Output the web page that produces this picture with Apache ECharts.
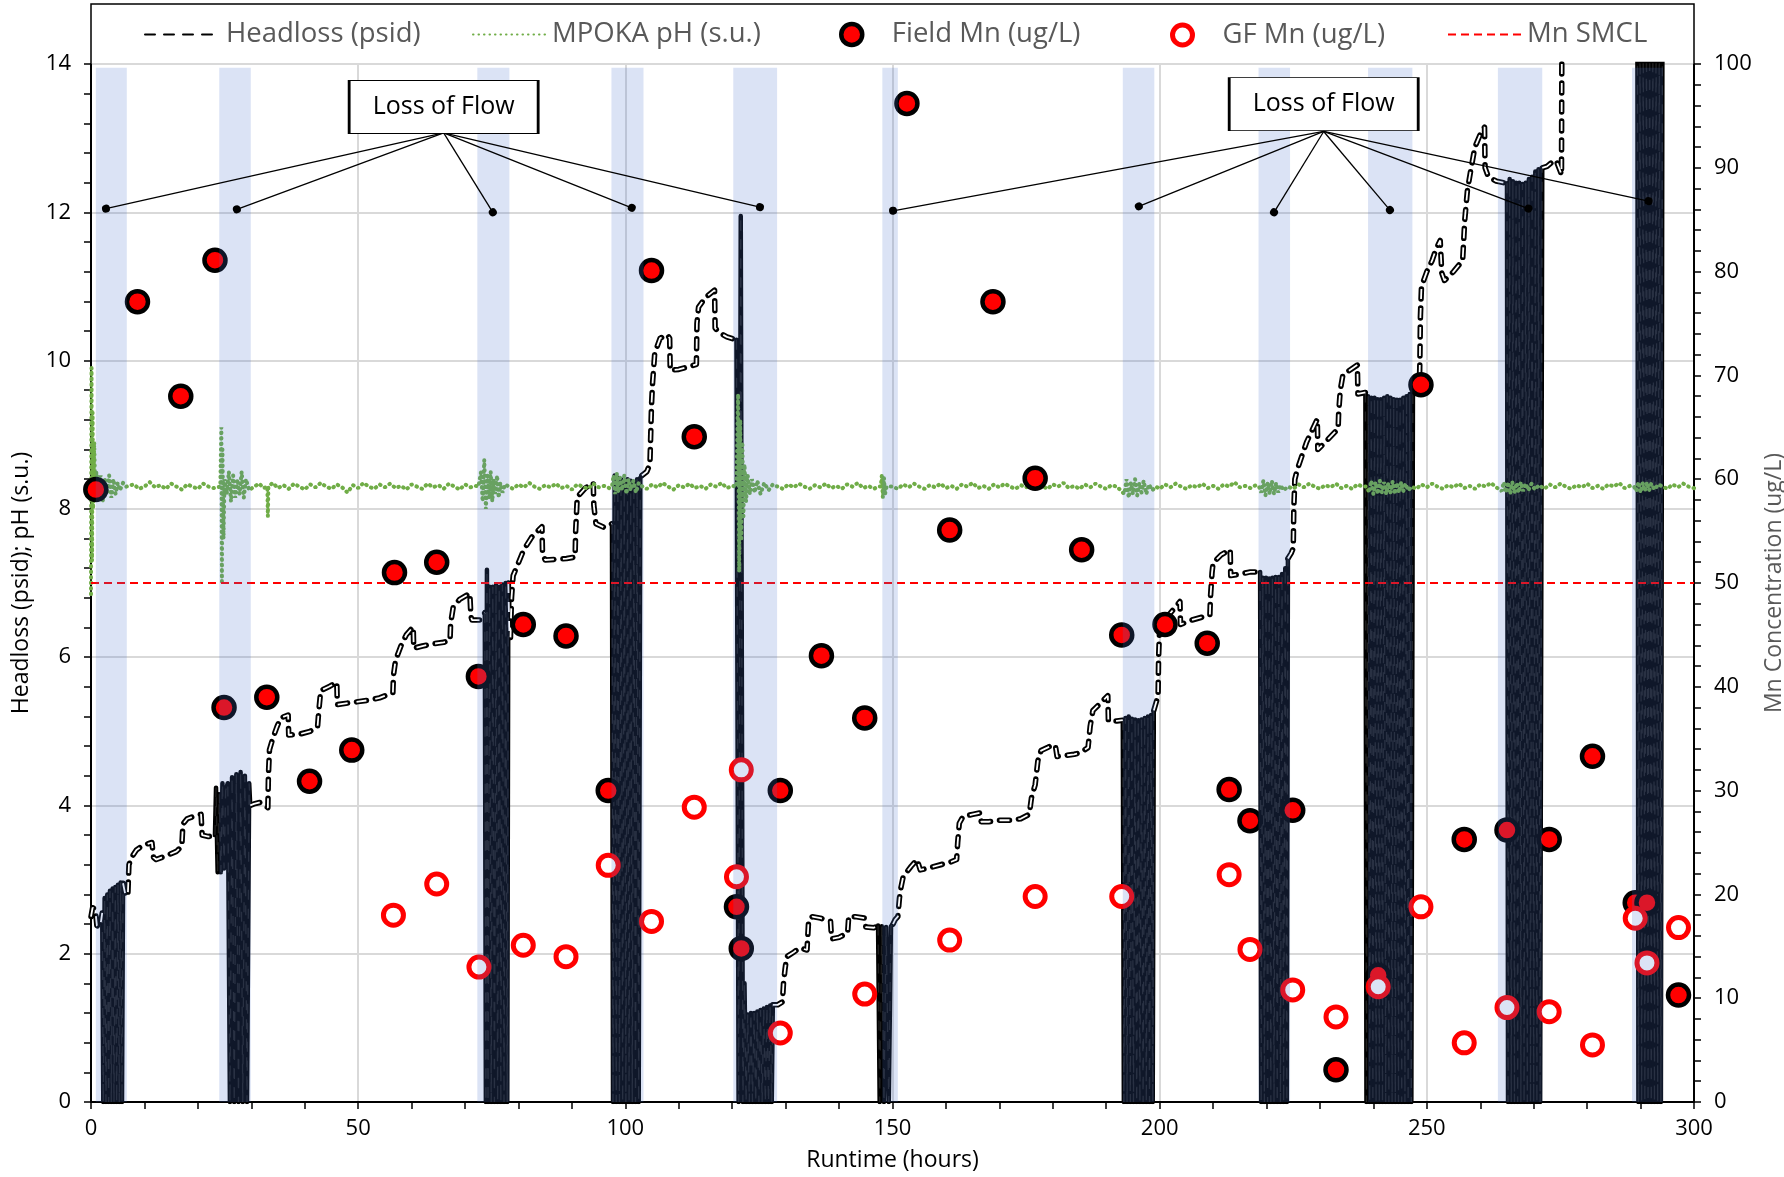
<!DOCTYPE html>
<html><head><meta charset="utf-8">
<script src="https://cdn.jsdelivr.net/npm/echarts@6/dist/echarts.min.js"></script>
<style>html,body{margin:0;padding:0;background:#fff}#c{width:1784px;height:1177px}</style>
</head><body><div id="c"></div>
<script>
const FONT = "'Open Sans', sans-serif";

// ---------- Headloss (psid): trend segments between loss-of-flow events ----------
const hlT1 = [[0,2.5],[0.3,2.62],[0.8,2.6],[1.1,2.38],[1.7,2.35],[2.1,2.55]];
const hlT2 = [[6.0,2.95],[6.5,2.77],[6.9,2.8],[7.1,3.2],[7.6,3.3],[8.5,3.4],[9.5,3.45],[10.5,3.48],[11.4,3.5],[11.7,3.3],[12.2,3.27],[14,3.32],[16,3.38],[17,3.45],[17.2,3.75],[18,3.82],[19.5,3.86],[20.6,3.88],[20.8,3.6],[22,3.58],[23.2,3.6]];
const hlT3 = [[29.8,4.0],[30.5,4.02],[31.6,4.04],[33.1,3.97],[33.2,4.4],[33.4,4.75],[34,4.9],[34.8,5.06],[35.5,5.18],[36.9,5.22],[37.0,4.95],[39,4.96],[41,5.0],[42.4,5.06],[42.6,5.25],[43,5.55],[44.5,5.6],[46,5.66],[46.1,5.36],[48,5.38],[50,5.4],[52,5.42],[54,5.45],[56.5,5.52],[56.6,5.75],[57,5.96],[58,6.15],[59,6.3],[60.3,6.41],[60.4,6.12],[62,6.15],[64,6.18],[66,6.2],[67.2,6.23],[67.3,6.45],[67.8,6.68],[69,6.78],[70.9,6.86],[71.1,6.55],[71.3,6.5],[72.8,6.5],[73.7,6.6]];
const hlT4 = [[78.1,7.0],[78.3,6.3],[78.5,6.25],[78.7,6.8],[79,7.1],[79.7,7.22],[81,7.45],[82.5,7.62],[84.4,7.76],[84.5,7.4],[85,7.31],[87,7.32],[89,7.33],[90.6,7.35],[90.7,7.7],[91,8.16],[92.5,8.28],[94,8.35],[94.1,8.05],[94.5,7.8],[96,7.75],[97.5,7.8]];
const hlT5 = [[103.1,8.45],[104,8.5],[104.6,8.6],[104.9,9.4],[105.1,9.7],[105.5,10.1],[106.5,10.3],[107.8,10.35],[108.3,10.3],[108.4,9.87],[110,9.88],[112,9.92],[113.3,9.95],[113.4,10.5],[113.7,10.72],[115,10.85],[116.7,10.95],[116.8,10.44],[117.5,10.38],[119,10.32],[120.8,10.28]];
const hlT6 = [[127.6,1.31],[128.5,1.31],[129.4,1.35],[129.6,1.6],[129.9,1.8],[130.2,1.96],[131.5,2.02],[132.7,2.08],[134,2.05],[134.3,2.45],[135,2.5],[136.5,2.48],[138.4,2.44],[138.6,2.2],[140,2.22],[141.6,2.28],[141.8,2.5],[143,2.5],[144.8,2.48],[145.0,2.36],[146.5,2.35],[147.3,2.38]];
const hlT7 = [[150.1,2.4],[150.5,2.46],[151,2.5],[151.3,2.75],[151.6,2.9],[152,3.04],[153.5,3.18],[154.6,3.27],[155.2,3.13],[157,3.16],[159,3.2],[161,3.24],[162,3.27],[162.2,3.5],[162.5,3.76],[163.2,3.85],[165,3.88],[166.4,3.9],[166.6,3.78],[168,3.78],[170,3.8],[172,3.8],[174,3.82],[175.6,3.88],[176,4.1],[176.7,4.28],[177.2,4.6],[177.8,4.74],[179,4.78],[180,4.82],[180.5,4.8],[180.8,4.66],[182,4.67],[184,4.69],[185.1,4.71],[186.6,4.78],[187,5.07],[187.5,5.28],[188.5,5.35],[190.3,5.48],[190.4,5.14],[192,5.14],[193.1,5.15]];
const hlT8 = [[198.9,5.28],[199.7,5.48],[199.8,6.0],[200,6.4],[201.5,6.55],[203.8,6.75],[203.9,6.44],[206,6.5],[209.4,6.57],[209.5,6.8],[209.8,7.14],[210,7.27],[211.5,7.38],[213.2,7.45],[213.3,7.1],[215,7.12],[217,7.15],[218.8,7.15]];
const hlT9 = [[224.0,7.33],[224.6,7.4],[225,7.47],[225.1,8.0],[225.3,8.4],[225.8,8.54],[227.5,8.9],[229.5,9.21],[229.6,8.8],[231,8.9],[233.4,9.08],[233.5,9.3],[233.8,9.6],[234.3,9.81],[237,9.94],[237.1,9.55],[238.5,9.57]];
const hlT10 = [[247.4,9.6],[248.6,9.65],[248.7,10.0],[248.8,10.6],[249,11.0],[250,11.2],[251,11.35],[251.7,11.5],[252.5,11.62],[252.8,11.18],[253.3,11.08],[255,11.2],[256.7,11.35],[257.1,11.9],[257.6,12.3],[258.3,12.6],[259,12.88],[260,13.05],[260.8,13.15],[260.9,12.6],[261.5,12.48],[263,12.42],[265,12.39]];
const hlT11 = [[271.6,12.6],[272.5,12.62],[273.5,12.68],[274.2,12.7],[275.0,12.55],[275.2,12.5],[275.3,15],[289.4,15]];

// ---------- Headloss (psid): rapid cycling during loss-of-flow events ----------
const hlB1 = [[2.1,2.55],[2.3,0],[2.55,2.75],[2.8,0],[3.05,2.8],[3.3,0],[3.55,2.85],[3.8,0],[4.05,2.88],[4.3,0],[4.55,2.9],[4.8,0],[5.05,2.93],[5.3,0],[5.55,2.96],[5.8,0],[6.0,2.95]];
const hlB2 = [[23.2,3.6],[23.4,4.24],[23.7,3.1],[24.0,4.15],[24.3,3.1],[24.6,4.3],[24.9,3.15],[25.2,4.2],[25.6,4.3],[26.0,0],[26.4,4.38],[26.8,0],[27.2,4.42],[27.6,0],[28.0,4.45],[28.4,0],[28.8,4.4],[29.2,0],[29.6,4.3],[29.8,4.0]];
const hlB3 = [[73.7,6.6],[73.9,0],[74.1,7.18],[74.3,0],[74.6,6.95],[74.9,0],[75.2,6.95],[75.5,0],[75.8,6.97],[76.1,0],[76.4,6.95],[76.7,0],[77.0,6.98],[77.3,0],[77.6,7.0],[77.9,0],[78.1,7.0]];
const hlB4 = [[97.5,7.8],[97.7,0],[98.0,8.45],[98.3,0],[98.6,8.42],[98.9,0],[99.2,8.4],[99.5,0],[99.8,8.38],[100.1,0],[100.4,8.4],[100.7,0],[101.0,8.38],[101.3,0],[101.6,8.36],[101.9,0],[102.2,8.4],[102.5,0],[102.8,8.42],[103.1,8.45]];
const hlB5 = [[120.8,10.28],[121.2,0],[121.6,11.95],[122.0,0],[122.3,1.6],[122.6,0],[122.9,1.18],[123.2,0],[123.5,1.2],[123.8,0],[124.1,1.2],[124.4,0],[124.7,1.22],[125.0,0],[125.3,1.24],[125.6,0],[125.9,1.26],[126.2,0],[126.5,1.28],[126.8,0],[127.1,1.3],[127.4,0],[127.6,1.31]];
const hlB6 = [[147.3,2.38],[147.6,0],[148.0,2.37],[148.4,0],[148.8,2.36],[149.3,0],[149.7,2.37],[150.1,2.4]];
const hlB7 = [[193.1,5.15],[193.3,0],[193.6,5.18],[193.9,0],[194.2,5.2],[194.5,0],[194.8,5.17],[195.1,0],[195.4,5.16],[195.7,0],[196.0,5.15],[196.3,0],[196.6,5.16],[196.9,0],[197.2,5.18],[197.5,0],[197.8,5.2],[198.1,0],[198.4,5.22],[198.7,0],[198.9,5.28]];
const hlB8 = [[218.8,7.15],[219.0,0],[219.3,7.07],[219.6,0],[219.9,7.07],[220.2,0],[220.5,7.06],[220.8,0],[221.1,7.07],[221.4,0],[221.7,7.08],[222.0,0],[222.3,7.08],[222.6,0],[222.9,7.12],[223.2,0],[223.5,7.2],[223.8,0],[224.0,7.33]];
const hlB9 = [[238.5,9.57],[238.7,0],[239.0,9.52],[239.3,0],[239.6,9.5],[239.9,0],[240.2,9.5],[240.5,0],[240.8,9.48],[241.1,0],[241.4,9.48],[241.7,0],[242.0,9.5],[242.3,0],[242.6,9.52],[242.9,0],[243.2,9.5],[243.5,0],[243.8,9.48],[244.1,0],[244.4,9.47],[244.7,0],[245.0,9.47],[245.3,0],[245.6,9.5],[245.9,0],[246.2,9.52],[246.5,0],[246.8,9.55],[247.1,0],[247.4,9.6]];
const hlB10 = [[265.0,12.39],[265.2,0],[265.5,12.45],[265.8,0],[266.1,12.42],[266.4,0],[266.7,12.4],[267.0,0],[267.3,12.4],[267.6,0],[267.9,12.38],[268.2,0],[268.5,12.4],[268.8,0],[269.1,12.45],[269.4,0],[269.7,12.48],[270.0,0],[270.3,12.55],[270.6,0],[270.9,12.58],[271.2,0],[271.6,12.6]];
const hlB11 = [[289.4,15],[289.6,0],[289.9,15],[290.2,0],[290.5,15],[290.8,0],[291.1,15],[291.4,0],[291.7,15],[292.0,0],[292.3,15],[292.6,0],[292.9,15],[293.2,0],[293.5,15],[293.8,0],[294.1,15]];

// ---------- MPOKA pH (s.u.) ----------
const phData = [
[0,6.85],[0.1,9.9],[0.2,7.3],[0.3,9.3],[0.4,8.0],[0.6,8.9],[0.8,8.2],[1.0,8.5],
[1.4,8.15],[1.8,8.45],[2.2,8.1],[2.6,8.4],[3.0,8.2],[3.4,8.45],[3.8,8.15],[4.2,8.4],[4.6,8.2],[5.0,8.35],[5.4,8.25],[6.0,8.35],[6.6,8.3],
[8,8.33],[9,8.27],[10,8.3],[11,8.36],[12,8.29],[13,8.32],[14,8.27],[15,8.34],[16,8.3],[17,8.26],[18,8.33],[19,8.3],[20,8.27],[21,8.34],[22,8.3],[23,8.28],
[24.2,8.3],[24.4,9.1],[24.5,7.02],[24.6,8.8],[24.8,7.6],[25.0,8.4],[25.4,8.2],[25.8,8.5],[26.2,8.1],[26.6,8.45],[27.0,8.15],[27.4,8.4],[27.8,8.2],[28.2,8.5],[28.6,8.15],[29.0,8.4],[29.6,8.25],[30.5,8.3],
[31.5,8.34],[32.3,8.28],[33.0,8.3],[33.1,7.9],[33.2,8.3],[34,8.35],[35,8.28],[36,8.32],[37,8.27],[38,8.34],[39,8.3],[40,8.26],[41,8.33],[42,8.29],[43,8.35],[44,8.3],[45,8.27],[46,8.33],[47,8.29],[48,8.22],[49,8.32],[50,8.28],[51,8.35],[52,8.3],[53,8.27],[54,8.33],[55,8.29],[56,8.34],[57,8.28],[58,8.31],[59,8.26],[60,8.33],[61,8.3],[62,8.27],[63,8.34],[64,8.29],[65,8.32],[66,8.27],[67,8.34],[68,8.3],[69,8.26],[70,8.33],[71,8.29],[72,8.31],
[72.5,8.3],[73,8.5],[73.3,8.1],[73.6,8.66],[73.9,8.0],[74.2,8.45],[74.5,8.15],[74.8,8.5],[75.1,8.1],[75.4,8.4],[75.7,8.2],[76.0,8.45],[76.3,8.15],[76.6,8.35],[77.0,8.22],[77.5,8.33],[78.2,8.3],
[79,8.27],[80,8.33],[81,8.29],[82,8.35],[83,8.3],[84,8.27],[85,8.32],[86,8.29],[87,8.34],[88,8.28],[89,8.31],[90,8.26],[91,8.33],[92,8.3],[93,8.27],[94,8.34],[95,8.29],[96,8.31],[97,8.28],
[97.5,8.3],[97.8,8.45],[98.1,8.2],[98.4,8.48],[98.7,8.22],[99,8.42],[99.4,8.25],[99.8,8.45],[100.2,8.2],[100.6,8.4],[101,8.25],[101.5,8.38],[102,8.22],[102.5,8.35],[103.2,8.3],
[104,8.27],[105,8.33],[106,8.29],[107,8.35],[108,8.3],[109,8.26],[110,8.32],[111,8.29],[112,8.34],[113,8.28],[114,8.31],[115,8.27],[116,8.33],[117,8.3],[118,8.35],[119,8.28],[120,8.31],[120.8,8.3],
[121.1,9.55],[121.3,7.15],[121.5,9.2],[121.7,7.6],[121.9,8.9],[122.1,7.9],[122.3,8.6],[122.6,8.1],[122.9,8.45],[123.3,8.2],[123.7,8.4],[124.2,8.22],[124.7,8.38],[125.3,8.2],[126,8.35],[126.8,8.25],[127.6,8.33],[128.5,8.3],
[129.5,8.27],[130.5,8.33],[131.5,8.29],[132.5,8.34],[133.5,8.3],[134.5,8.27],[135.5,8.32],[136.5,8.29],[137.5,8.34],[138.5,8.28],[139.5,8.31],[140.5,8.27],[141.5,8.33],[142.5,8.3],[143.5,8.35],[144.5,8.28],[145.5,8.31],[146.5,8.27],[147.3,8.3],
[147.8,8.3],[148.0,8.45],[148.2,8.15],[148.4,8.42],[148.6,8.2],[148.9,8.3],[150,8.3],
[151,8.27],[152,8.33],[153,8.29],[154,8.34],[155,8.3],[156,8.27],[157,8.32],[158,8.29],[159,8.34],[160,8.28],[161,8.31],[162,8.27],[163,8.33],[164,8.3],[165,8.35],[166,8.28],[167,8.31],[168,8.27],[169,8.33],[170,8.29],[171,8.34],[172,8.3],[173,8.27],[174,8.32],[175,8.29],[176,8.34],[177,8.28],[178,8.31],[179,8.27],[180,8.33],[181,8.3],[182,8.35],[183,8.28],[184,8.31],[185,8.27],[186,8.33],[187,8.29],[188,8.34],[189,8.3],[190,8.27],[191,8.32],[192,8.3],
[193.4,8.2],[193.8,8.4],[194.2,8.15],[194.6,8.35],[195,8.2],[195.4,8.4],[195.8,8.18],[196.2,8.35],[196.6,8.22],[197,8.38],[197.5,8.2],[198,8.33],[198.6,8.25],[199.3,8.3],
[200,8.27],[201,8.33],[202,8.29],[203,8.34],[204,8.3],[205,8.27],[206,8.32],[207,8.29],[208,8.34],[209,8.28],[210,8.31],[211,8.27],[212,8.33],[213,8.3],[214,8.36],[215,8.29],[216,8.31],[217,8.28],[218,8.32],[218.6,8.3],
[219,8.22],[219.4,8.38],[219.8,8.18],[220.2,8.35],[220.6,8.2],[221,8.38],[221.4,8.2],[221.8,8.35],[222.2,8.22],[222.6,8.32],[223.2,8.25],[224,8.3],
[225,8.27],[226,8.33],[227,8.29],[228,8.34],[229,8.3],[230,8.27],[231,8.32],[232,8.29],[233,8.34],[234,8.28],[235,8.31],[236,8.27],[237,8.33],[238,8.3],[238.8,8.3],
[239.2,8.22],[239.6,8.38],[240,8.2],[240.4,8.36],[240.8,8.2],[241.2,8.38],[241.6,8.22],[242,8.36],[242.4,8.2],[242.8,8.35],[243.2,8.22],[243.6,8.37],[244,8.2],[244.4,8.35],[244.8,8.22],[245.2,8.36],[245.6,8.24],[246,8.34],[246.5,8.25],[247.2,8.3],
[248,8.27],[249,8.33],[250,8.29],[251,8.34],[252,8.3],[253,8.27],[254,8.32],[255,8.29],[256,8.34],[257,8.28],[258,8.31],[259,8.27],[260,8.33],[261,8.3],[262,8.35],[263,8.29],
[264,8.24],[264.4,8.36],[264.8,8.22],[265.2,8.36],[265.6,8.2],[266,8.36],[266.4,8.22],[266.8,8.35],[267.2,8.22],[267.6,8.36],[268,8.24],[268.5,8.34],[269,8.25],[269.6,8.34],[270.2,8.26],[271,8.32],
[272,8.27],[273,8.33],[274,8.29],[275,8.34],[276,8.3],[277,8.27],[278,8.32],[279,8.29],[280,8.34],[281,8.28],[282,8.31],[283,8.27],[284,8.33],[285,8.3],[286,8.35],[287,8.28],[288,8.31],[288.8,8.3],
[289.2,8.24],[289.6,8.36],[290,8.22],[290.4,8.35],[290.8,8.24],[291.2,8.36],[291.6,8.25],[292,8.34],[292.6,8.26],[293.3,8.33],[294.2,8.3],
[295,8.27],[296,8.33],[297,8.29],[298,8.34],[299,8.3],[300,8.28]];

// ---------- Mn (ug/L) ----------
const fieldMn = [[0.9,59.0],[8.7,77.1],[16.8,68.0],[23.2,81.1],[24.9,38.0],[32.9,39.0],[40.9,30.9],[48.8,33.9],[56.8,51.0],[64.7,52.0],[72.5,41.0],[80.9,46.0],[88.9,44.9],[96.8,30.0],[104.9,80.1],[112.9,64.1],[120.8,18.8],[121.7,14.8],[129.0,30.0],[136.7,43.0],[144.8,37.0],[152.7,96.2],[160.7,55.1],[168.8,77.1],[176.7,60.1],[185.4,53.2],[192.9,45.0],[201.0,46.0],[208.9,44.2],[213.0,30.1],[216.9,27.1],[224.9,28.1],[233.0,3.1],[240.9,12.2],[248.9,69.1],[257.0,25.3],[265.0,26.2],[272.9,25.3],[281.0,33.3],[289.0,19.2],[291.2,19.2],[297.1,10.3]];
const gfMn = [[56.6,18.0],[64.7,21.0],[72.6,13.0],[80.9,15.1],[88.9,14.0],[96.8,22.8],[104.9,17.4],[112.9,28.4],[120.8,21.7],[121.7,32.0],[129.0,6.65],[144.8,10.4],[160.7,15.6],[176.7,19.8],[192.9,19.8],[213.0,21.9],[216.9,14.7],[224.9,10.8],[233.0,8.2],[240.9,11.1],[248.9,18.8],[257.0,5.7],[265.0,9.1],[272.9,8.7],[281.0,5.5],[289.0,17.7],[291.2,13.4],[297.1,16.8]];
const mnSMCL = [[0,50],[300,50]];

// ---------- Loss of flow periods and annotations ----------
const lossBands = [[0.9,6.7],[24.0,29.9],[72.3,78.3],[97.4,103.4],[120.2,128.4],[148.1,151.0],[193.1,199.0],[218.5,224.4],[239.0,247.3],[263.3,271.6],[288.4,294.2]];
const bandTop = 13.95;
const annotText = 'Loss of Flow';
const annotBoxes = [[66.0,13.42],[230.7,13.46]];
const annotAnchors = [[66.0,13.07],[230.7,13.09]];
const lossDotsA = [[2.8,12.05],[27.3,12.04],[75.2,12.0],[101.2,12.06],[125.2,12.07]];
const lossDotsB = [[150.1,12.02],[196.1,12.08],[221.4,12.0],[243.1,12.03],[269.0,12.05],[291.5,12.15]];

const xTicks = {min:0, max:300, interval:50};
const yLeft = {min:0, max:14, interval:2};
const yRight = {min:0, max:100, interval:10};

function joinSegs(segs){
  const out=[];
  segs.forEach((s,i)=>{ if(i) out.push([s[0][0],'-']); s.forEach(p=>out.push(p)); });
  return out;
}
const trendData = joinSegs([hlT1,hlT2,hlT3,hlT4,hlT5,hlT6,hlT7,hlT8,hlT9,hlT10,hlT11]);
const blockData = joinSegs([hlB1,hlB2,hlB3,hlB4,hlB5,hlB6,hlB7,hlB8,hlB9,hlB10,hlB11]);

const chart = echarts.init(document.getElementById('c'), null, {renderer:'canvas'});
const axisCommon = {
  axisLine:{show:true, onZero:false, lineStyle:{color:'#000', width:2}},
  axisTick:{show:true, inside:false, length:7, lineStyle:{color:'#000', width:1.5}},
  minorTick:{show:true, splitNumber:5, length:7, lineStyle:{color:'#000', width:1.5}},
  axisLabel:{color:'#000', fontSize:22, fontFamily:FONT, margin:20},
  nameTextStyle:{fontSize:23, fontFamily:FONT, color:'#000'}
};
const noSym = {color:'rgba(0,0,0,0)', borderWidth:0, opacity:0};
const legendBase = {top:20.5, padding:0, itemGap:0, textStyle:{fontSize:27.5, color:'#595959', fontFamily:FONT}, selectedMode:false, itemHeight:30};
const hlDash = [10,9];

chart.setOption({
  animation:false,
  backgroundColor:'#fff',
  grid:{left:91, right:90, top:64, bottom:75, containLabel:false, outerBoundsMode:'none'},
  graphic:[{type:'rect', z:0, shape:{x:91, y:4, width:1603, height:60}, style:{fill:'#fff', stroke:'#000', lineWidth:1.5}}],
  legend:[
    Object.assign({}, legendBase, {data:['Headloss (psid)'], left:144, itemWidth:76, itemStyle:noSym}),
    Object.assign({}, legendBase, {data:['MPOKA pH (s.u.)'], left:472, itemWidth:74, itemStyle:noSym}),
    Object.assign({}, legendBase, {data:['Field Mn (ug/L)'], left:839, itemWidth:70, itemHeight:21, top:20.5, itemStyle:{color:'#ff0000', borderColor:'#000', borderWidth:4.5}}),
    Object.assign({}, legendBase, {data:['GF Mn (ug/L)'], left:1170, itemWidth:70, itemHeight:20, top:21, itemStyle:{color:'#fff', borderColor:'#ff0000', borderWidth:5}}),
    Object.assign({}, legendBase, {data:['Mn SMCL'], left:1447, itemWidth:74, itemStyle:noSym})
  ],
  xAxis:Object.assign({type:'value'}, xTicks, axisCommon, {
    name:'Runtime (hours)', nameLocation:'middle', nameGap:47,
    splitLine:{show:true, lineStyle:{color:'#d9d9d9', width:2}},
    axisLabel:Object.assign({}, axisCommon.axisLabel, {margin:16})
  }),
  yAxis:[
    Object.assign({type:'value', position:'left'}, yLeft, axisCommon, {
      name:'Headloss (psid); pH (s.u.)', nameLocation:'middle', nameGap:58, nameRotate:90,
      splitLine:{show:true, lineStyle:{color:'#d9d9d9', width:2}}
    }),
    Object.assign({type:'value', position:'right'}, yRight, axisCommon, {
      name:'Mn Concentration (ug/L)', nameLocation:'middle', nameGap:62, nameRotate:90,
      nameTextStyle:{fontSize:23, fontFamily:FONT, color:'#595959'},
      splitLine:{show:false}
    })
  ],
  series:[
    {name:'Headloss (psid)', type:'line', yAxisIndex:0, data:trendData, z:2, symbol:'none', showSymbol:false, connectNulls:false,
     lineStyle:{color:'#000', width:5.5, type:hlDash, cap:'round', join:'round'}, itemStyle:{color:'#000'}},
    {name:'_hlw', type:'line', yAxisIndex:0, data:trendData, z:3, symbol:'none', showSymbol:false, silent:true, connectNulls:false,
     lineStyle:{color:'#fff', width:1.8, type:hlDash, cap:'butt'}},
    {name:'_hlb', type:'line', yAxisIndex:0, data:blockData, z:2, symbol:'none', showSymbol:false, silent:true, connectNulls:false,
     lineStyle:{color:'#000', width:4.5, cap:'round', join:'round'}},
    {name:'_hlbw', type:'line', yAxisIndex:0, data:blockData, z:3, symbol:'none', showSymbol:false, silent:true, connectNulls:false,
     lineStyle:{color:'#fff', width:1.3, type:hlDash, opacity:0.13}},
    {name:'MPOKA pH (s.u.)', type:'line', yAxisIndex:0, data:phData, z:4, symbol:'none', showSymbol:false,
     lineStyle:{color:'#70ad47', width:4, type:[0.5,5], cap:'round'}, itemStyle:{color:'#70ad47'}},
    {name:'Mn SMCL', type:'line', yAxisIndex:1, data:mnSMCL, z:4, symbol:'none', showSymbol:false,
     lineStyle:{color:'#ff0000', width:2.2, type:[8,5]}, itemStyle:{color:'#ff0000'}},
    {name:'Field Mn (ug/L)', type:'scatter', yAxisIndex:1, data:fieldMn, z:5, symbol:'circle', symbolSize:21,
     itemStyle:{color:'#ff0000', borderColor:'#000', borderWidth:4.5, opacity:1}},
    {name:'GF Mn (ug/L)', type:'scatter', yAxisIndex:1, data:gfMn, z:6, symbol:'circle', symbolSize:20,
     itemStyle:{color:'#fff', borderColor:'#ff0000', borderWidth:5, opacity:1}},
    {name:'_bands', type:'line', yAxisIndex:0, data:[], silent:true,
     markArea:{silent:true, z:20, itemStyle:{color:'rgba(75,115,205,0.2)'},
       data:lossBands.map(b=>[{xAxis:b[0], yAxis:0},{xAxis:b[1], yAxis:bandTop}])}},
    {name:'_annot', type:'line', yAxisIndex:0, data:[], silent:true,
     markLine:{silent:true, z:25, symbol:['circle','none'], symbolSize:8, animation:false,
       lineStyle:{color:'#000', width:1.3, type:'solid'}, label:{show:false},
       data:lossDotsA.map(d=>[{coord:d},{coord:annotAnchors[0]}]).concat(lossDotsB.map(d=>[{coord:d},{coord:annotAnchors[1]}]))},
     markPoint:{silent:true, z:30, symbol:'rect', symbolSize:[189,53],
       itemStyle:{color:'#fff', borderColor:'#000', borderWidth:1.5},
       label:{show:true, position:'inside', formatter:annotText, fontSize:25, color:'#000', fontFamily:FONT},
       data:annotBoxes.map(c=>({coord:c}))}}
  ]
});
</script></body></html>
